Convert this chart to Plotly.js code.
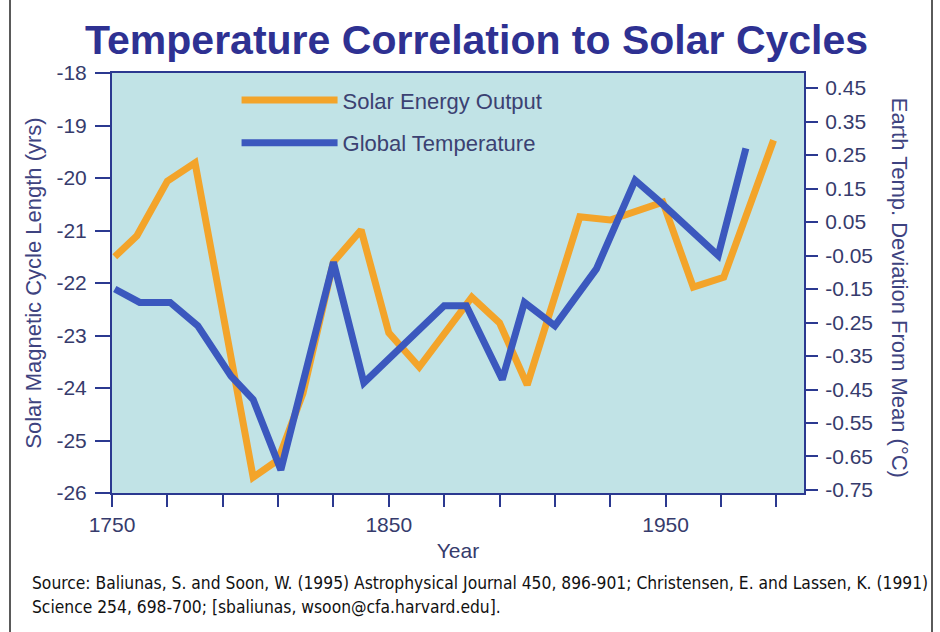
<!DOCTYPE html>
<html>
<head>
<meta charset="utf-8">
<script src="https://cdn.plot.ly/plotly-3.0.1.min.js"></script>
<style>
  html, body { margin: 0; padding: 0; background: #ffffff; }
  #wrap { position: relative; width: 940px; height: 632px; }
  #chart { width: 940px; height: 632px; }
  #bl { position: absolute; left: 9px; top: 0; width: 2px; height: 632px; background: #5a5a5a; }
  #br { position: absolute; left: 931px; top: 0; width: 2px; height: 632px; background: #5a5a5a; }
</style>
</head>
<body>
<div id="wrap">
  <div id="chart"></div>
  <div id="bl"></div>
  <div id="br"></div>
</div>
<script>
// ---- data ----
const solarYears = [1751, 1759, 1770, 1780, 1801, 1810, 1819, 1830, 1840, 1850, 1861, 1880, 1890, 1900, 1919, 1930, 1949, 1960, 1971, 1989];
const solarCycleLength = [-21.50, -21.10, -20.06, -19.71, -25.70, -25.37, -24.10, -21.60, -20.99, -22.95, -23.60, -22.27, -22.76, -23.94, -20.74, -20.80, -20.46, -22.08, -21.89, -19.28];

const tempYears = [1751, 1760, 1771, 1781, 1793, 1801, 1811, 1830, 1841, 1870, 1878, 1891, 1899, 1910, 1925, 1939, 1948, 1969, 1979];
const tempDeviation = [-0.15, -0.19, -0.19, -0.26, -0.41, -0.48, -0.69, -0.07, -0.43, -0.20, -0.20, -0.42, -0.19, -0.26, -0.09, 0.175, 0.11, -0.05, 0.27];

const xTickVals = [1750, 1850, 1950];
const xTickText = ['1750', '1850', '1950'];
const leftTickVals = [-26, -25, -24, -23, -22, -21, -20, -19, -18];
const leftTickText = ['-26', '-25', '-24', '-23', '-22', '-21', '-20', '-19', '-18'];
const rightTickVals = [-0.75, -0.65, -0.55, -0.45, -0.35, -0.25, -0.15, -0.05, 0.05, 0.15, 0.25, 0.35, 0.45];
const rightTickText = ['-0.75', '-0.65', '-0.55', '-0.45', '-0.35', '-0.25', '-0.15', '-0.05', '0.05', '0.15', '0.25', '0.35', '0.45'];

const seriesNames = ['Solar Energy Output', 'Global Temperature'];

// ---- styling ----
const navy = '#2B3990';
const textCol = '#363B6C';
const font = 'Liberation Sans, Arial, sans-serif';

const traces = [
  {
    x: tempYears, y: tempDeviation, yaxis: 'y2',
    type: 'scatter', mode: 'lines', name: seriesNames[1],
    legendgroup: 'g2', legendrank: 2,
    line: { color: '#3B58BE', width: 7, shape: 'linear' }
  },
  {
    x: solarYears, y: solarCycleLength, yaxis: 'y',
    type: 'scatter', mode: 'lines', name: seriesNames[0],
    legendgroup: 'g1', legendrank: 1,
    line: { color: '#F3A42A', width: 7, shape: 'linear' }
  }
];

const layout = {
  width: 940, height: 632,
  margin: { l: 112, r: 136, t: 73, b: 139 },
  paper_bgcolor: '#ffffff',
  plot_bgcolor: '#C1E3E6',
  font: { family: font, size: 21, color: textCol },
  title: {
    text: '<b>Temperature Correlation to Solar Cycles</b>',
    font: { family: font, size: 41, color: '#2E3192' },
    x: 0.507, xanchor: 'center', xref: 'container',
    y: 0.937, yanchor: 'middle', yref: 'container'
  },
  showlegend: true,
  legend: {
    x: 0.18, xanchor: 'left', y: 0.985, yanchor: 'top',
    bgcolor: 'rgba(0,0,0,0)', borderwidth: 0,
    font: { family: font, size: 22, color: '#3B4172' },
    traceorder: 'grouped', tracegroupgap: 11,
    itemwidth: 96
  },
  xaxis: {
    range: [1750, 2000],
    showgrid: false, zeroline: false,
    showline: true, linecolor: navy, linewidth: 2, mirror: true,
    tickmode: 'array', tickvals: xTickVals, ticktext: xTickText,
    ticks: 'outside', ticklen: 12, tickwidth: 2, tickcolor: navy,
    minor: { tick0: 1750, dtick: 20, ticks: 'outside', ticklen: 12, tickwidth: 2, tickcolor: navy, showgrid: false },
    ticklabelstandoff: 0,
    tickfont: { family: font, size: 21, color: textCol },
    title: { text: 'Year', font: { family: font, size: 21, color: textCol }, standoff: 8 }
  },
  yaxis: {
    range: [-26, -18],
    showgrid: false, zeroline: false,
    showline: true, linecolor: navy, linewidth: 2,
    tickmode: 'array', tickvals: leftTickVals, ticktext: leftTickText,
    ticks: 'outside', ticklen: 15, tickwidth: 2, tickcolor: navy,
    ticklabelstandoff: 4,
    tickfont: { family: font, size: 21, color: textCol },
    title: { text: 'Solar Magnetic Cycle Length (yrs)', font: { family: font, size: 22, color: '#3E4380' }, standoff: 9 }
  },
  yaxis2: {
    range: [-0.759, 0.495],
    overlaying: 'y', side: 'right',
    showgrid: false, zeroline: false,
    showline: true, linecolor: navy, linewidth: 2,
    tickmode: 'array', tickvals: rightTickVals, ticktext: rightTickText,
    ticks: 'outside', ticklen: 12, tickwidth: 2, tickcolor: navy,
    ticklabelstandoff: 3,
    tickfont: { family: font, size: 21, color: textCol }
  },
  annotations: [
    {
      text: 'Earth Temp. Deviation From Mean (°C)',
      xref: 'paper', yref: 'paper', x: 1.139, y: 0.488,
      xanchor: 'center', yanchor: 'middle', textangle: 90, showarrow: false,
      font: { family: font, size: 22, color: '#3E4380' }
    },
    {
      text: 'Source: Baliunas, S. and Soon, W. (1995) Astrophysical Journal 450, 896-901; Christensen, E. and Lassen, K. (1991)',
      xref: 'paper', yref: 'paper', x: -0.1185, y: -0.214,
      xanchor: 'left', yanchor: 'middle', showarrow: false,
      font: { family: 'Liberation Sans Narrow, Arial Narrow, DejaVu Sans Condensed, sans-serif', size: 17.3, color: '#111111' }
    },
    {
      text: 'Science 254, 698-700; [sbaliunas, wsoon@cfa.harvard.edu].',
      xref: 'paper', yref: 'paper', x: -0.1185, y: -0.271,
      xanchor: 'left', yanchor: 'middle', showarrow: false,
      font: { family: 'Liberation Sans Narrow, Arial Narrow, DejaVu Sans Condensed, sans-serif', size: 17.3, color: '#111111' }
    }
  ]
};

Plotly.newPlot('chart', traces, layout, { staticPlot: true, displayModeBar: false });
</script>
</body>
</html>
